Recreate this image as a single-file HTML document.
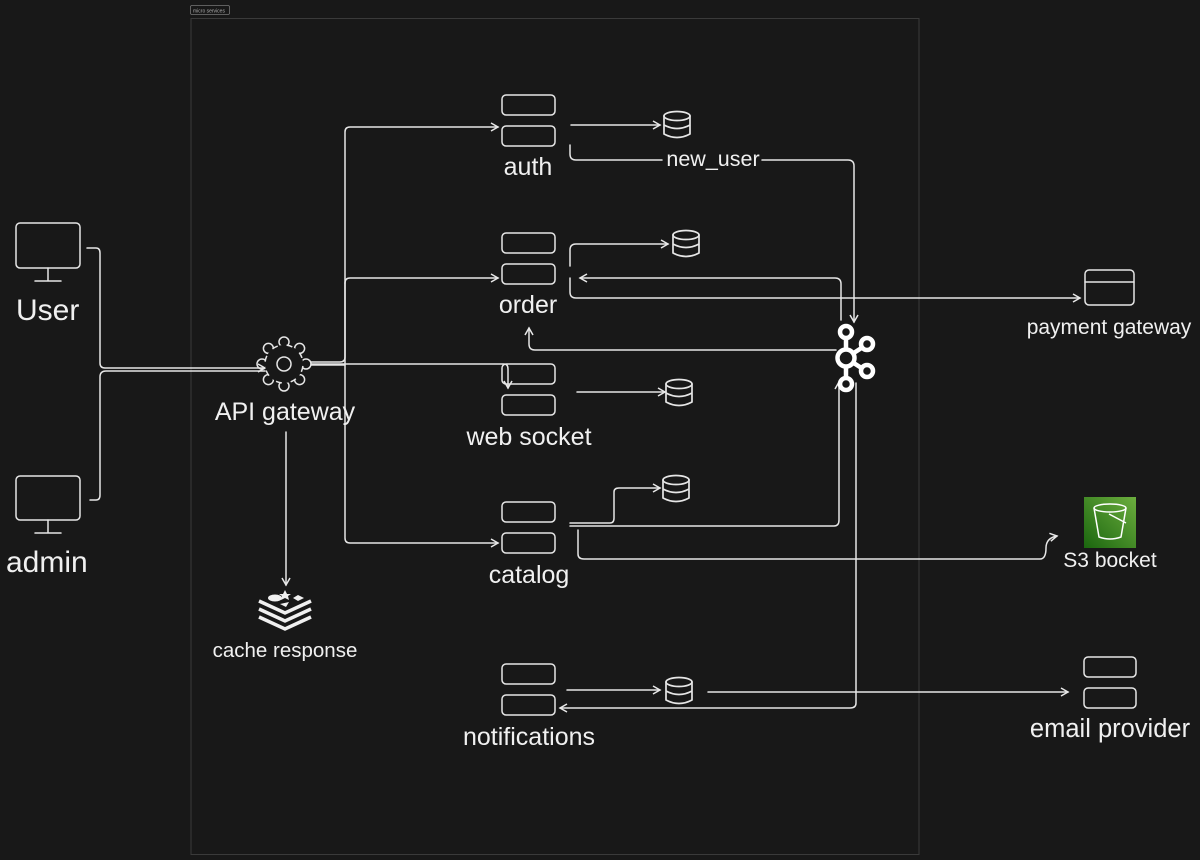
<!DOCTYPE html>
<html><head><meta charset="utf-8"><style>
html,body{margin:0;padding:0;background:#181818;}
svg{display:block}
text{font-family:"Liberation Sans",sans-serif;fill:#f0f0f0}
</style></head><body>
<svg width="1200" height="860" viewBox="0 0 1200 860">
<defs>
<marker id="a" markerWidth="10" markerHeight="10" refX="8" refY="5" orient="auto" markerUnits="userSpaceOnUse">
<path d="M1,1 L8,5 L1,9" fill="none" stroke="#e8e8e8" stroke-width="1.5"/>
</marker>
</defs>
<rect width="1200" height="860" fill="#181818"/>
<rect x="191" y="18.5" width="728" height="836" fill="none" stroke="#3a3a3a" stroke-width="1"/>
<rect x="190.5" y="5.5" width="39" height="9" rx="1.5" fill="none" stroke="#777" stroke-width="0.8"/>
<text x="193" y="12.5" font-size="5" style="fill:#aaa">micro services</text>

<g fill="none" stroke="#e6e6e6" stroke-width="1.5" stroke-linejoin="round" stroke-linecap="round">
<rect x="16" y="223" width="64" height="45" rx="4"/>
<path d="M48,268 V281 M35,281 H61"/>
<rect x="16" y="476" width="64" height="44" rx="4"/>
<path d="M48,520 V533 M35,533 H61"/>

<path d="M87,248 H96 Q100,248 100,253 V363 Q100,368 105,368 H265" marker-end="url(#a)"/>
<path d="M90,500 H96 Q100,500 100,495 V377 Q100,371 106,371 H265" />

<path d="M311,362 H340 Q345,362 345,357 V132 Q345,127 350,127 H498" marker-end="url(#a)"/>
<path d="M311,365 H345 M345,283 Q345,278 350,278 H498" marker-end="url(#a)"/>
<path d="M345,283 V538 Q345,543 350,543 H498" marker-end="url(#a)"/>
<path d="M311,364 H504 Q508,364 508,369 V388" marker-end="url(#a)"/>
<path d="M286,432 V585" marker-end="url(#a)"/>

<rect x="502" y="95" width="53" height="20" rx="4"/>
<rect x="502" y="126" width="53" height="20" rx="4"/>
<rect x="502" y="233" width="53" height="20" rx="4"/>
<rect x="502" y="264" width="53" height="20" rx="4"/>
<rect x="502" y="364" width="53" height="20" rx="4"/>
<rect x="502" y="395" width="53" height="20" rx="4"/>
<rect x="502" y="502" width="53" height="20" rx="4"/>
<rect x="502" y="533" width="53" height="20" rx="4"/>
<rect x="502" y="664" width="53" height="20" rx="4"/>
<rect x="502" y="695" width="53" height="20" rx="4"/>
<rect x="1084" y="657" width="52" height="20" rx="4"/>
<rect x="1084" y="688" width="52" height="20" rx="4"/>

<rect x="1085" y="270" width="49" height="35" rx="4"/>
<path d="M1085,282 H1134"/>

<path d="M571,125 H660" marker-end="url(#a)"/>
<path d="M570,145 V154 Q570,160 576,160 H662"/>
<path d="M762,160 H848 Q854,160 854,166 V322" marker-end="url(#a)"/>

<path d="M570,266 V250 Q570,244 576,244 H668" marker-end="url(#a)"/>
<path d="M570,278 V292 Q570,298 576,298 H1080" marker-end="url(#a)"/>
<path d="M841,320 V284 Q841,278 835,278 H580" marker-end="url(#a)"/>
<path d="M836,350 H535 Q529,350 529,344 V328" marker-end="url(#a)"/>

<path d="M577,392 H665" marker-end="url(#a)"/>

<path d="M570,523 H610 Q614,523 614,518 V492 Q614,488 619,488 H660" marker-end="url(#a)"/>
<path d="M570,526 H834 Q839,526 839,520 V382" marker-end="url(#a)"/>
<path d="M578,530 V554 Q578,559 584,559 H1040 Q1046,559 1046,548 Q1046,538 1057,536" marker-end="url(#a)"/>

<path d="M567,690 H660" marker-end="url(#a)"/>
<path d="M708,692 H1068" marker-end="url(#a)"/>
<path d="M856,383 V703 Q856,708 850,708 H560" marker-end="url(#a)"/>

<g id="db" stroke-width="1.7">
<ellipse cx="677" cy="116" rx="13" ry="4.5"/>
<path d="M664,116 V134 Q677,141 690,134 V116 M664,125 Q677,132 690,125"/>
</g>
<use href="#db" x="9" y="119"/>
<use href="#db" x="2" y="268"/>
<use href="#db" x="-1" y="364"/>
<use href="#db" x="2" y="566"/>

<g transform="translate(284,364)">
<circle cx="0" cy="-22" r="5"/><circle cx="15.6" cy="-15.6" r="5"/><circle cx="22" cy="0" r="5"/><circle cx="15.6" cy="15.6" r="5"/>
<circle cx="0" cy="22" r="5"/><circle cx="-15.6" cy="15.6" r="5"/><circle cx="-22" cy="0" r="5"/><circle cx="-15.6" cy="-15.6" r="5"/>
<circle r="19" fill="#181818" stroke="none"/>
<circle r="7"/>
</g>
</g>
<g transform="translate(284,364)" fill="none" stroke="#e6e6e6" stroke-width="1.5">
<circle r="19" stroke-dasharray="6 9" stroke-dashoffset="-2"/>
</g>

<g fill="none" stroke="#fff" stroke-width="4.5">
<path d="M846,338 V378 M846,358 L863,347 M846,358 L863,369"/>
<circle cx="846" cy="358" r="8.5" fill="#181818"/>
<circle cx="846" cy="332" r="6" fill="#181818"/>
<circle cx="846" cy="384" r="6" fill="#181818"/>
<circle cx="867" cy="344" r="6" fill="#181818"/>
<circle cx="867" cy="371" r="6" fill="#181818"/>
</g>

<g fill="#f0f0f0">
<path d="M259,609 L285,621 L311,609" fill="none" stroke="#f0f0f0" stroke-width="3.5"/>
<path d="M259,617 L285,629 L311,617" fill="none" stroke="#f0f0f0" stroke-width="3.5"/>
<path d="M259,601 L285,613 L311,601" fill="none" stroke="#f0f0f0" stroke-width="3.5"/>
<ellipse cx="275" cy="598" rx="7" ry="3.5"/>
<path d="M285,590 l2,4 l4,0 l-3,2 l1,4 l-4,-2 l-4,2 l1,-4 l-3,-2 l4,0 z"/>
<path d="M293,598 l5,-3 l6,3 l-6,3 z"/>
<path d="M280,604 l9,-2 l-3,5 z"/>
</g>

<defs><linearGradient id="g" x1="0" y1="1" x2="1" y2="0"><stop offset="0" stop-color="#1b660f"/><stop offset="1" stop-color="#6cae3e"/></linearGradient></defs>
<rect x="1084" y="497" width="52" height="51" fill="url(#g)"/>
<g fill="none" stroke="#fff" stroke-width="1.5">
<ellipse cx="1110" cy="508" rx="16" ry="4"/>
<path d="M1094,508 L1099,537 Q1110,541 1121,537 L1126,508"/>
<path d="M1109,514 L1126,523"/>
</g>

<text x="16" y="320" font-size="30">User</text>
<text x="6" y="572" font-size="30">admin</text>
<text x="285" y="420" font-size="25" text-anchor="middle">API gateway</text>
<text x="285" y="657" font-size="20.5" text-anchor="middle">cache response</text>
<text x="528" y="175" font-size="25" text-anchor="middle">auth</text>
<text x="528" y="313" font-size="25" text-anchor="middle">order</text>
<text x="529" y="445" font-size="25" text-anchor="middle">web socket</text>
<text x="529" y="583" font-size="25" text-anchor="middle">catalog</text>
<text x="529" y="745" font-size="25" text-anchor="middle">notifications</text>
<text x="713" y="166" font-size="21.5" text-anchor="middle">new_user</text>
<text x="1109" y="334" font-size="21" text-anchor="middle">payment gateway</text>
<text x="1110" y="567" font-size="21" text-anchor="middle">S3 bocket</text>
<text x="1110" y="737" font-size="25.5" text-anchor="middle">email provider</text>
</svg>
</body></html>
